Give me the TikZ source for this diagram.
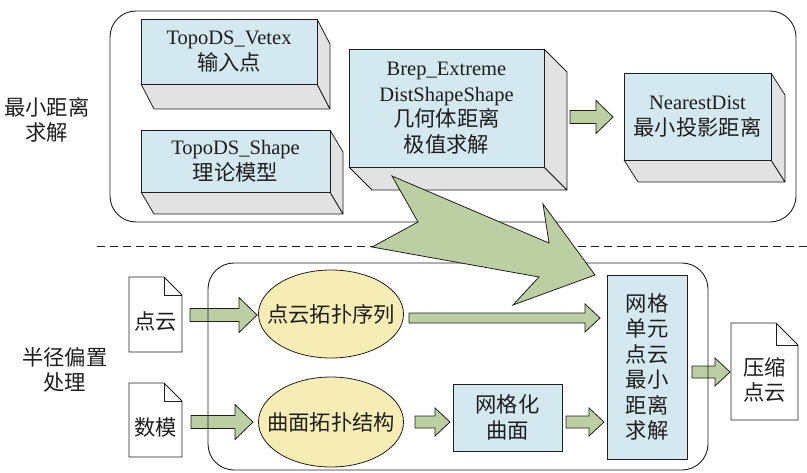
\documentclass[tikz,border=0pt]{standalone}
\usepackage{fontspec}
\usetikzlibrary{shapes.geometric}
\setmainfont{Liberation Serif}
\newfontfamily\cjk[Scale=1.04]{Noto Sans CJK SC}
\definecolor{faceblue}{HTML}{D3E8EF}
\definecolor{sidegray}{HTML}{E2E2E2}
\definecolor{flowgreen}{HTML}{BCCFA3}
\definecolor{ovalyellow}{HTML}{F6EDB4}
\definecolor{ink}{HTML}{1E1E1E}

\tikzset{
  frame/.style={draw=ink, line width=0.9pt, rounded corners=26pt},
  front/.style={draw=ink, line width=0.8pt, fill=faceblue},
  depth/.style={draw=ink, line width=0.8pt, fill=sidegray, line join=round},
  blk/.style={draw=ink, line width=0.8pt, fill=flowgreen, line join=miter},
  lbl/.style={align=center, font=\fontsize{20.5}{25.5}\selectfont, inner sep=0pt, text=ink},
  lblcn/.style={lbl, font=\fontsize{20.5}{25.5}\selectfont\cjk},
  paper/.style={draw=ink, line width=0.8pt, fill=white},
  oval/.style={draw=ink, line width=0.8pt, fill=ovalyellow, ellipse},
}

% extruded box: name, x1, y1, x2, y2, dx, dy, text
\newcommand\solidbox[8]{%
  \draw[depth] (#2,#5) -- (#2+#6,#5+#7) -- (#4+#6,#5+#7) -- (#4,#5) -- cycle;
  \draw[depth] (#4,#3) -- (#4+#6,#3+#7) -- (#4+#6,#5+#7) -- (#4,#5) -- cycle;
  \draw[front] (#2,#3) rectangle (#4,#5);
  \node[lbl] (#1) at ({(#2+#4)/2},{(#3+#5)/2}) {#8};
}
% flat box: name, x1, y1, x2, y2, text
\newcommand\flatbox[6]{%
  \draw[front] (#2,#3) rectangle (#4,#5);
  \node[lblcn] (#1) at ({(#2+#4)/2},{(#3+#5)/2}) {#6};
}
% block arrow: x1, x2, y, shaft half height, head half height, head length
\newcommand\blockarrow[6]{%
  \draw[blk] (#1,#3-#4) -- (#2-#6,#3-#4) -- (#2-#6,#3-#5) -- (#2,#3)
    -- (#2-#6,#3+#5) -- (#2-#6,#3+#4) -- (#1,#3+#4) -- cycle;
}
% document sheet with folded corner: name, x1, y1, x2, y2, fold, text, text y
\newcommand\docsheet[8]{%
  \draw[paper] (#2,#3) -- (#4-#6,#3) -- (#4,#3+#6) -- (#4,#5) -- (#2,#5) -- cycle;
  \draw[ink, line width=0.8pt] (#4-#6,#3) -- (#4-#6,#3+#6) -- (#4,#3+#6);
  \node[lblcn] (#1) at ({(#2+#4)/2},#8) {#7};
}

\begin{document}
\begin{tikzpicture}[x=1pt, y=-1pt]
\useasboundingbox (0,0) rectangle (807,472);

% ---- upper stage: minimum distance solving ----
\draw[frame] (110,11) rectangle (796,222);
\node[lblcn] (topname) at (47,120) {最小距离\\求解};

\solidbox{vetex}{141}{19}{317}{84}{13}{25}{TopoDS\_Vetex\\{\cjk 输入点}}
\solidbox{shape}{141}{130}{330}{192}{13}{22}{TopoDS\_Shape\\{\cjk 理论模型}}
\solidbox{brep}{349}{49}{544}{167}{23}{23}{Brep\_Extreme\\DistShapeShape\\{\cjk 几何体距离}\\{\cjk 极值求解}}
\solidbox{nearest}{624}{73}{771}{160}{14}{22}{NearestDist\\{\cjk 最小投影距离}}

\blockarrow{570}{613}{117}{6.5}{16.5}{17}

% ---- separator ----
\draw[ink, line width=0.9pt, dash pattern=on 8pt off 5pt] (97,246) -- (807,246);

% ---- lower stage: radius offset processing ----
\node[lblcn] (lowname) at (65,370) {半径偏置\\处理};

\docsheet{cloud}{129}{277}{182}{352}{18}{点云}{321}
\docsheet{model}{129}{383}{182}{457}{18}{数模}{427}
\docsheet{packed}{731}{323}{798}{420}{22}{压缩\\点云}{380}

\blockarrow{190}{257}{315}{6.5}{17.5}{18}
\blockarrow{191}{253}{422}{6.5}{17.5}{18}

\node[oval, minimum width=145pt, minimum height=88pt, inner sep=0pt] (seq) at (331,314) {};
\node[lblcn] at (seq.center) {点云拓扑序列};
\node[oval, minimum width=145pt, minimum height=90pt, inner sep=0pt] (surf) at (331,422) {};
\node[lblcn] at (surf.center) {曲面拓扑结构};

\flatbox{mesh}{453}{384}{562}{451}{网格化\\曲面}
\flatbox{solve}{607}{275}{687}{459}{网格\\单元\\点云\\最小\\距离\\求解}

\blockarrow{409}{600}{318}{5}{14}{15}
\blockarrow{415}{450}{422}{6}{14}{15}
\blockarrow{566}{604}{422}{6}{14}{15}
\blockarrow{692}{730}{372}{6}{14}{15}

\draw[frame] (208,263) rectangle (708,470);

% ---- hand-over from the upper stage to the lower one ----
\draw[blk] (392,176) -- (418,222) -- (372,247) -- (539,277) -- (513,305)
  -- (595,275) -- (543,204) -- (549,243) -- cycle;
\end{tikzpicture}
\end{document}
